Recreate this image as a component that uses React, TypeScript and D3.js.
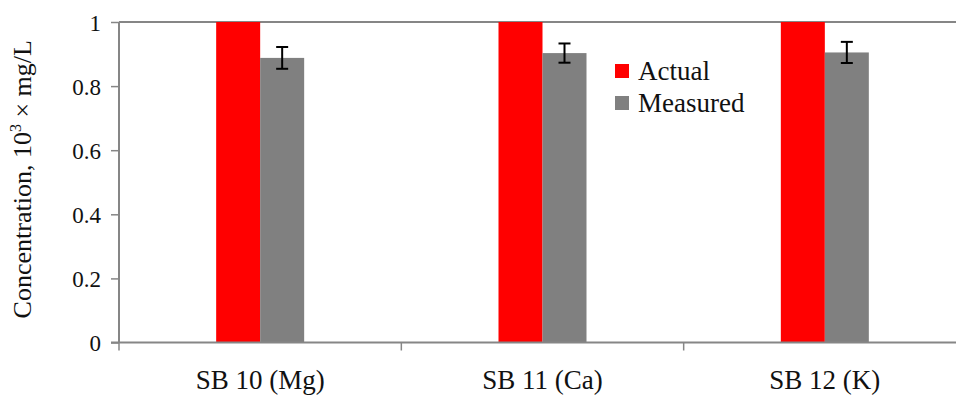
import React, { useRef, useEffect } from 'react'
import * as d3 from 'd3'

const categories = ['SB 10 (Mg)', 'SB 11 (Ca)', 'SB 12 (K)']
const actual = [1, 1, 1]
const measured = [0.888, 0.903, 0.905]
const measuredErr = [0.034, 0.03, 0.033]
const yTicks = [0, 0.2, 0.4, 0.6, 0.8, 1]
const seriesNames = ['Actual', 'Measured']
const colors = ['#ff0000', '#808080']

function App() {
  const svgRef = useRef<SVGSVGElement>(null)

  useEffect(() => {
    const svg = d3.select(svgRef.current)
    svg.selectAll('*').remove()

    const font = '"Liberation Serif", "Times New Roman", serif'
    const axisColor = '#868686'
    const left = 119
    const right = 966
    const top = 22
    const bottom = 342.5

    const x = d3.scaleBand().domain(categories).range([left, right])
    const y = d3.scaleLinear().domain([0, 1]).range([bottom, top])
    const barW = 44

    // plot area top border
    svg.append('line')
      .attr('x1', left).attr('x2', 956)
      .attr('y1', y(1)).attr('y2', y(1))
      .attr('stroke', axisColor).attr('stroke-width', 2)

    // bars
    const g = svg.append('g')
    categories.forEach((c, i) => {
      const cx = x(c)! + x.bandwidth() / 2
      g.append('rect')
        .attr('x', cx - barW).attr('width', barW)
        .attr('y', y(actual[i])).attr('height', y(0) - y(actual[i]))
        .attr('fill', colors[0])
      g.append('rect')
        .attr('x', cx).attr('width', barW)
        .attr('y', y(measured[i])).attr('height', y(0) - y(measured[i]))
        .attr('fill', colors[1])
      const ex = cx + barW / 2
      const hi = y(measured[i] + measuredErr[i])
      const lo = y(measured[i] - measuredErr[i])
      g.append('line').attr('x1', ex).attr('x2', ex).attr('y1', hi).attr('y2', lo)
        .attr('stroke', '#000').attr('stroke-width', 2)
      ;[hi, lo].forEach(v => {
        g.append('line').attr('x1', ex - 6).attr('x2', ex + 6).attr('y1', v).attr('y2', v)
          .attr('stroke', '#000').attr('stroke-width', 2)
      })
    })

    // y axis
    const yAxis = svg.append('g')
      .attr('transform', `translate(${left},0)`)
      .call(d3.axisLeft(y).tickValues(yTicks).tickSize(8).tickPadding(10).tickFormat(d => String(d)))
    yAxis.select('.domain').attr('stroke', axisColor).attr('stroke-width', 2)
      .attr('d', `M0,${y(1)}V${y(0)}`)
    yAxis.selectAll('.tick line').attr('stroke', axisColor).attr('stroke-width', 1.5)
    yAxis.selectAll('.tick text')
      .attr('font-family', font).attr('font-size', 23).attr('fill', '#111').attr('dy', '0.35em')

    // x axis
    const xAxis = svg.append('g')
      .attr('transform', `translate(0,${bottom})`)
      .call(d3.axisBottom(x).tickSize(0).tickPadding(27))
    xAxis.select('.domain').attr('stroke', axisColor).attr('stroke-width', 2)
      .attr('d', `M${left - 8},0H${right}`)
    xAxis.selectAll('.tick text')
      .attr('font-family', font).attr('font-size', 27).attr('fill', '#111')
    const edges = categories.map(c => x(c)!)
    xAxis.selectAll('.edge').data(edges).enter().append('line')
      .attr('x1', d => d).attr('x2', d => d).attr('y1', 0).attr('y2', 8)
      .attr('stroke', axisColor).attr('stroke-width', 1.5)

    // y title
    svg.append('text')
      .attr('transform', `translate(31,${(top + bottom) / 2 - 3}) rotate(-90)`)
      .attr('text-anchor', 'middle')
      .attr('font-family', font).attr('font-size', 26).attr('fill', '#111')
      .html('Concentration, 10<tspan font-size="16" dy="-10">3</tspan><tspan dy="10"> × mg/L</tspan>')

    // legend
    const lg = svg.append('g').attr('transform', 'translate(615,64)')
    seriesNames.forEach((s, i) => {
      lg.append('rect').attr('x', 0).attr('y', i * 32).attr('width', 14).attr('height', 14).attr('fill', colors[i])
      lg.append('text').attr('x', 23).attr('y', i * 32 + 16)
        .attr('font-family', font).attr('font-size', 27).attr('fill', '#111').text(s)
    })
  }, [])

  return (
    <svg ref={svgRef} width={956} height={400}
      style={{ position: 'absolute', left: 0, top: 0, background: '#fff' }} />
  )
}

export default App
